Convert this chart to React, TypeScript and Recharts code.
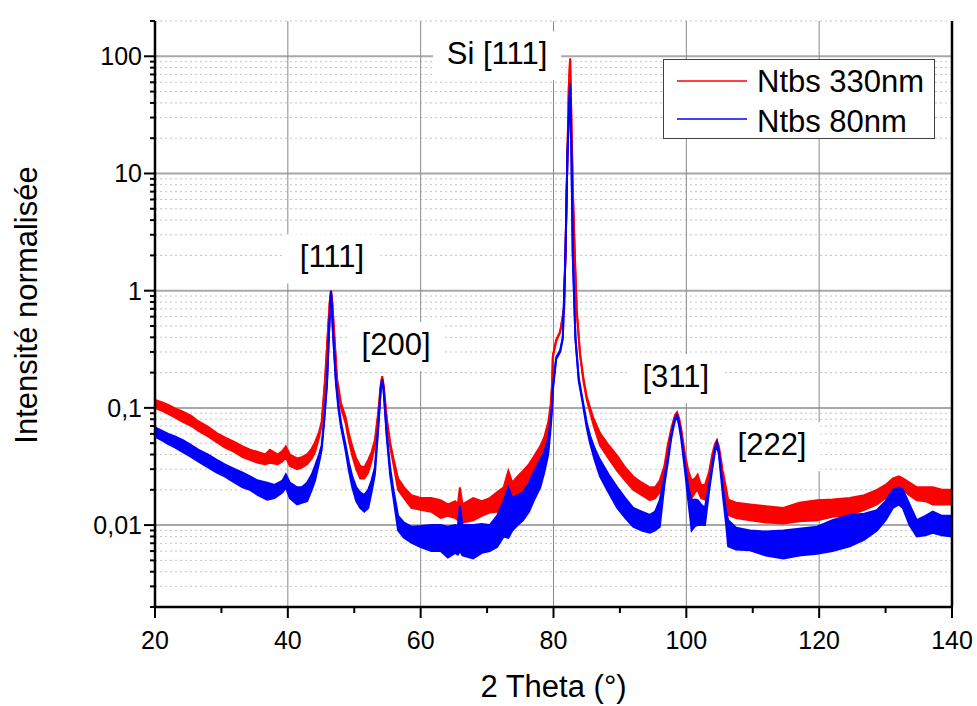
import React from "react";
import {
  ComposedChart,
  Area,
  XAxis,
  YAxis,
  CartesianGrid,
  ReferenceLine,
  ReferenceDot,
  Legend,
} from "recharts";

const FONT = '"Liberation Sans", Arial, Helvetica, sans-serif';

// Ntbs 330nm : 2 theta + upper / lower edge of the noisy trace
const redTheta = [
  20, 21, 22, 23, 24.2, 25.5, 26.5, 28, 29.3, 30.5,
  32, 33.2, 34.3, 35.5, 36.6, 37.3, 38.5, 39.2, 39.7, 40.3,
  41.4, 42.1, 42.9, 43.6, 44.1, 44.7, 45.1, 45.6, 46.0, 46.3,
  46.5, 46.7, 47.0, 47.4, 48.0, 48.7, 49.2, 49.7, 50.3, 50.9,
  51.5, 52.1, 52.6, 53.1, 53.6, 54.0, 54.2, 54.4, 54.9, 55.4,
  55.9, 56.6, 57.5, 58.6, 60, 61.6, 63, 64.1, 65.2, 65.6,
  65.9, 66.3, 67.9, 69.2, 70.4, 71.5, 72.5, 73.2, 73.8, 74.6,
  75.4, 76.3, 77, 78, 78.6, 79.2, 79.6, 79.8, 79.9, 80.4,
  81.0, 81.6, 81.8, 82.0, 82.3, 82.5, 82.7, 82.9, 83.2, 83.5,
  84.0, 84.5, 85.0, 86.0, 87.0, 88.3, 89.6, 90.8, 92.0, 93.3,
  94.5, 95.3, 96.0, 96.7, 97.2, 97.7, 98.0, 98.3, 98.6, 98.9,
  99.2, 99.8, 100.3, 100.8, 101.3, 101.7, 102.2, 102.8, 103.4, 103.9,
  104.3, 104.6, 104.9, 105.5, 106.3, 107.5, 109.6, 112, 114.6, 117,
  119.7, 122, 124.6, 126.8, 128.7, 130, 131.1, 132, 132.6, 133.6,
  134.7, 136, 137.1, 138.5, 140,
];
const redHigh = [
  0.117, 0.112, 0.106, 0.099, 0.093, 0.085, 0.077, 0.069, 0.061, 0.056,
  0.051, 0.047, 0.044, 0.042, 0.040, 0.044, 0.040, 0.043, 0.047, 0.040,
  0.037, 0.038, 0.040, 0.045, 0.051, 0.062, 0.077, 0.175, 0.42, 0.80,
  1.0, 0.80, 0.42, 0.18, 0.11, 0.083, 0.060, 0.047, 0.037, 0.032,
  0.031, 0.036, 0.042, 0.053, 0.09, 0.16, 0.186, 0.16, 0.082, 0.051,
  0.037, 0.025, 0.021, 0.018, 0.017, 0.017, 0.0163, 0.015, 0.016, 0.015,
  0.021, 0.015, 0.017, 0.016, 0.017, 0.019, 0.021, 0.029, 0.023, 0.026,
  0.029, 0.033, 0.038, 0.047, 0.056, 0.075, 0.11, 0.17, 0.28, 0.38,
  0.45, 0.72, 2.1, 7.6, 54, 96, 28, 7.6, 2.1, 0.68,
  0.29, 0.18, 0.125, 0.082, 0.061, 0.048, 0.039, 0.031, 0.026, 0.023,
  0.021, 0.021, 0.024, 0.032, 0.048, 0.065, 0.076, 0.087, 0.092, 0.082,
  0.068, 0.040, 0.029, 0.024, 0.025, 0.027, 0.022, 0.022, 0.028, 0.040,
  0.049, 0.053, 0.047, 0.029, 0.0165, 0.0155, 0.015, 0.0145, 0.014, 0.0155,
  0.0163, 0.0165, 0.017, 0.018, 0.020, 0.022, 0.025, 0.026, 0.025, 0.023,
  0.021, 0.021, 0.021, 0.020, 0.020,
];
const redLow = [
  0.100, 0.095, 0.089, 0.083, 0.076, 0.070, 0.064, 0.057, 0.051, 0.046,
  0.042, 0.038, 0.036, 0.034, 0.033, 0.034, 0.033, 0.035, 0.038, 0.032,
  0.030, 0.031, 0.033, 0.037, 0.042, 0.056, 0.072, 0.165, 0.40, 0.77,
  0.98, 0.77, 0.40, 0.17, 0.10, 0.074, 0.052, 0.039, 0.030, 0.025,
  0.025, 0.028, 0.035, 0.048, 0.085, 0.153, 0.18, 0.153, 0.077, 0.047,
  0.033, 0.020, 0.017, 0.014, 0.0135, 0.013, 0.0115, 0.012, 0.0115, 0.011,
  0.012, 0.0105, 0.011, 0.012, 0.0128, 0.013, 0.014, 0.015, 0.016, 0.018,
  0.020, 0.025, 0.029, 0.036, 0.046, 0.063, 0.10, 0.16, 0.27, 0.37,
  0.44, 0.70, 2.0, 7.4, 52, 94, 27, 7.4, 2.0, 0.66,
  0.28, 0.17, 0.118, 0.072, 0.048, 0.037, 0.029, 0.024, 0.020, 0.018,
  0.0163, 0.017, 0.019, 0.028, 0.044, 0.061, 0.072, 0.084, 0.088, 0.078,
  0.064, 0.036, 0.024, 0.017, 0.019, 0.020, 0.017, 0.0165, 0.024, 0.036,
  0.046, 0.050, 0.044, 0.025, 0.0122, 0.0115, 0.011, 0.0105, 0.0103, 0.0108,
  0.011, 0.0118, 0.0122, 0.0135, 0.015, 0.017, 0.020, 0.021, 0.020, 0.018,
  0.0163, 0.016, 0.015, 0.015, 0.015,
];

// Ntbs 80nm
const blueTheta = [
  20, 21, 22, 23, 24.2, 25.5, 26.5, 28, 29.3, 30.5,
  32, 33.2, 34.3, 35.5, 36.9, 38, 39.2, 39.7, 40.3, 41.4,
  42.1, 42.9, 43.6, 44.1, 44.7, 45.1, 45.5, 45.9, 46.2, 46.5,
  46.8, 47.25, 47.6, 48.0, 48.7, 49.2, 49.7, 50.3, 50.9, 51.5,
  52.1, 52.6, 53.1, 53.6, 54.0, 54.2, 54.4, 54.9, 55.4, 55.9,
  56.6, 57.5, 58.6, 60, 61.6, 63, 64.1, 65.2, 65.6, 65.9,
  66.3, 67.9, 69.2, 70.4, 71.5, 72.5, 73.2, 73.8, 74.6, 75.4,
  76.3, 77, 78, 78.6, 79.2, 79.6, 79.8, 79.9, 80.4, 81.0,
  81.4, 81.8, 82.1, 82.5, 82.7, 82.9, 83.3, 83.8, 84.3, 85.0,
  85.5, 86.2, 87.0, 88.3, 89.6, 90.8, 92.0, 93.3, 94.5, 95.3,
  96.0, 96.7, 97.2, 97.7, 98.0, 98.3, 98.6, 98.9, 99.2, 99.8,
  100.3, 100.8, 101.3, 101.7, 102.2, 102.8, 103.4, 103.9, 104.3, 104.6,
  104.9, 105.5, 106.0, 106.3, 107.5, 109.6, 112, 114.6, 117, 119.7,
  122, 124.6, 126.8, 128.7, 130, 131.1, 132, 132.6, 133.6, 134.7,
  136, 137.1, 138.5, 140,
];
const blueHigh = [
  0.068, 0.064, 0.060, 0.057, 0.053, 0.048, 0.044, 0.040, 0.036, 0.033,
  0.030, 0.028, 0.026, 0.024, 0.023, 0.022, 0.024, 0.027, 0.023, 0.021,
  0.021, 0.023, 0.027, 0.032, 0.040, 0.048, 0.085, 0.17, 0.45, 1.0,
  0.45, 0.17, 0.11, 0.075, 0.048, 0.034, 0.026, 0.021, 0.019, 0.018,
  0.020, 0.024, 0.031, 0.07, 0.15, 0.176, 0.15, 0.06, 0.031, 0.020,
  0.012, 0.0105, 0.0097, 0.0098, 0.010, 0.010, 0.0097, 0.010, 0.0098, 0.0147,
  0.010, 0.010, 0.0102, 0.010, 0.012, 0.016, 0.021, 0.017, 0.018, 0.019,
  0.023, 0.028, 0.036, 0.042, 0.055, 0.08, 0.11, 0.15, 0.27, 0.31,
  0.40, 2.1, 14.9, 59, 15, 2.1, 0.40, 0.18, 0.124, 0.075,
  0.058, 0.045, 0.036, 0.027, 0.021, 0.017, 0.014, 0.013, 0.0122, 0.013,
  0.0163, 0.026, 0.037, 0.058, 0.07, 0.082, 0.087, 0.075, 0.060, 0.033,
  0.021, 0.0163, 0.0165, 0.0163, 0.015, 0.014, 0.022, 0.033, 0.045, 0.051,
  0.043, 0.021, 0.013, 0.011, 0.0095, 0.009, 0.0088, 0.009, 0.0093, 0.0097,
  0.011, 0.0122, 0.0125, 0.0134, 0.016, 0.020, 0.021, 0.020, 0.015, 0.011,
  0.012, 0.013, 0.012, 0.012,
];
const blueLow = [
  0.057, 0.053, 0.049, 0.046, 0.042, 0.038, 0.035, 0.031, 0.028, 0.026,
  0.023, 0.021, 0.020, 0.018, 0.0165, 0.017, 0.019, 0.021, 0.017, 0.015,
  0.0155, 0.016, 0.020, 0.024, 0.034, 0.044, 0.08, 0.16, 0.43, 0.98,
  0.43, 0.16, 0.10, 0.069, 0.043, 0.029, 0.021, 0.016, 0.014, 0.013,
  0.014, 0.019, 0.027, 0.065, 0.145, 0.17, 0.145, 0.056, 0.027, 0.017,
  0.009, 0.0078, 0.0071, 0.0065, 0.006, 0.006, 0.0053, 0.0058, 0.0056, 0.006,
  0.0055, 0.0052, 0.0058, 0.006, 0.0065, 0.008, 0.0078, 0.009, 0.010, 0.011,
  0.013, 0.016, 0.021, 0.028, 0.040, 0.07, 0.10, 0.14, 0.26, 0.30,
  0.39, 2.0, 14.5, 57, 14.5, 2.0, 0.39, 0.17, 0.118, 0.068,
  0.050, 0.036, 0.026, 0.019, 0.014, 0.0115, 0.0097, 0.009, 0.0086, 0.009,
  0.0097, 0.022, 0.034, 0.054, 0.066, 0.078, 0.084, 0.071, 0.056, 0.029,
  0.016, 0.009, 0.0098, 0.010, 0.010, 0.010, 0.019, 0.030, 0.042, 0.048,
  0.040, 0.018, 0.010, 0.0066, 0.0062, 0.0061, 0.0055, 0.0052, 0.0055, 0.0057,
  0.006, 0.0066, 0.0075, 0.009, 0.011, 0.014, 0.015, 0.014, 0.010, 0.008,
  0.0082, 0.0086, 0.0082, 0.008,
];

const xTicks = [20, 30, 40, 50, 60, 70, 80, 90, 100, 110, 120, 130, 140];
const xMajor = [20, 40, 60, 80, 100, 120, 140];
const xGrid = [40, 60, 80, 100, 120];
const yMajor = [0.01, 0.1, 1, 10, 100];
const yMinor = [
  0.002, 0.003, 0.004, 0.005, 0.006, 0.007, 0.008, 0.009,
  0.02, 0.03, 0.04, 0.05, 0.06, 0.07, 0.08, 0.09,
  0.2, 0.3, 0.4, 0.5, 0.6, 0.7, 0.8, 0.9,
  2, 3, 4, 5, 6, 7, 8, 9,
  20, 30, 40, 50, 60, 70, 80, 90, 200,
];

const series = [
  { name: "Ntbs 330nm", color: "#ff0000", theta: redTheta, hi: redHigh, lo: redLow },
  { name: "Ntbs 80nm", color: "#0000ff", theta: blueTheta, hi: blueHigh, lo: blueLow },
];

const peakLabels = [
  { text: "Si [111]", theta: 71.5, value: 100, w: 128 },
  { text: "[111]", theta: 46.65, value: 1.85, w: 97 },
  { text: "[200]", theta: 56.3, value: 0.33, w: 97 },
  { text: "[311]", theta: 98.4, value: 0.176, w: 97 },
  { text: "[222]", theta: 112.9, value: 0.0462, w: 97 },
];

const fmt = (v: number) => (v >= 1 ? String(v) : String(v).replace(".", ","));

function XTick(props: any) {
  const { x, y, payload } = props;
  const major = xMajor.includes(payload.value);
  return (
    <g>
      <line x1={x} x2={x} y1={y} y2={y + (major ? 11 : 6)} stroke="#000" strokeWidth={2} />
      {major && (
        <text x={x} y={y + 42} textAnchor="middle" fontSize={25} fontFamily={FONT} fill="#000">
          {payload.value}
        </text>
      )}
    </g>
  );
}

function TopTick(props: any) {
  const { x, y, payload } = props;
  const major = xMajor.includes(payload.value);
  return <line x1={x} x2={x} y1={y} y2={y - (major ? 12 : 7)} stroke="#000" strokeWidth={2} />;
}

function YTick(props: any) {
  const { x, y, payload } = props;
  const major = yMajor.includes(payload.value);
  return (
    <g>
      <line x1={x - (major ? 11 : 5)} x2={x} y1={y} y2={y} stroke="#000" strokeWidth={2} />
      {major && (
        <text x={x - 13} y={y + 9} textAnchor="end" fontSize={25} fontFamily={FONT} fill="#000">
          {fmt(payload.value)}
        </text>
      )}
    </g>
  );
}

function LegendBox() {
  return (
    <svg width={272} height={80} style={{ display: "block" }}>
      <rect x={0.5} y={0.5} width={271} height={79} fill="#fff" stroke="#404040" strokeWidth={1} />
      {series.map((s, i) => (
        <g key={s.name}>
          <line x1={14} x2={84} y1={22 + i * 38} y2={22 + i * 38} stroke={s.color} strokeWidth={1.5} />
          <text x={94} y={33 + i * 40} fontSize={31} fontFamily={FONT} fill="#000">
            {s.name}
          </text>
        </g>
      ))}
    </svg>
  );
}

export default function App() {
  const yTicks = [...yMinor, ...yMajor].sort((a, b) => a - b);
  const datasets = series.map((s) =>
    s.theta.map((t, i) => ({ theta: t, band: [s.lo[i], s.hi[i]] }))
  );

  return (
    <div style={{ position: "absolute", left: 0, top: 0, width: 977, height: 706, background: "#fff" }}>
      <ComposedChart
        width={977}
        height={706}
        margin={{ top: 21, right: 25, bottom: 0, left: 0 }}
        style={{ fontFamily: FONT }}
      >
        <CartesianGrid vertical={false} horizontalValues={yMinor} stroke="#c4c4c4" strokeDasharray="2 3" />
        <CartesianGrid vertical={false} horizontalValues={yMajor} stroke="#a8a8a8" strokeWidth={2} />
        <CartesianGrid horizontal={false} verticalValues={xGrid} stroke="#8a8a8a" strokeWidth={1} />

        <XAxis
          dataKey="theta"
          type="number"
          domain={[20, 140]}
          ticks={xTicks}
          interval={0}
          allowDataOverflow
          height={99}
          tickSize={0}
          tickMargin={0}
          tickLine={false}
          axisLine={{ stroke: "#000", strokeWidth: 2.5 }}
          tick={<XTick />}
          label={{
            content: (p: any) => {
              const vb = p.viewBox || { x: 155, y: 607, width: 797 };
              return (
                <text x={vb.x + vb.width / 2} y={vb.y + 90} textAnchor="middle" fontSize={31} fontFamily={FONT} fill="#000">
                  2 Theta (°)
                </text>
              );
            },
          }}
        />
        <XAxis
          xAxisId="top"
          orientation="top"
          dataKey="theta"
          type="number"
          domain={[20, 140]}
          ticks={xTicks}
          interval={0}
          allowDataOverflow
          height={0}
          tickSize={0}
          tickMargin={0}
          tickLine={false}
          axisLine={{ stroke: "#000", strokeWidth: 2.5 }}
          tick={<TopTick />}
        />
        <YAxis
          type="number"
          scale="log"
          domain={[0.002, 200]}
          ticks={yTicks}
          interval={0}
          allowDataOverflow
          width={155}
          tickSize={0}
          tickMargin={0}
          tickLine={false}
          axisLine={{ stroke: "#000", strokeWidth: 2.5 }}
          tick={<YTick />}
          label={{
            content: () => (
              <text
                x={37}
                y={305}
                transform="rotate(-90 37 305)"
                textAnchor="middle"
                fontSize={31}
                fontFamily={FONT}
                fill="#000"
              >
                Intensité normalisée
              </text>
            ),
          }}
        />

        <ReferenceLine x={140} stroke="#000" strokeWidth={2.5} ifOverflow="visible" />

        {series.map((s, i) => (
          <Area
            key={s.name}
            name={s.name}
            data={datasets[i]}
            dataKey="band"
            type="linear"
            stroke={s.color}
            strokeWidth={2}
            fill={s.color}
            fillOpacity={1}
            dot={false}
            activeDot={false}
            isAnimationActive={false}
          />
        ))}

        {peakLabels.map((l) => (
          <ReferenceDot
            key={l.text}
            x={l.theta}
            y={l.value}
            r={0}
            ifOverflow="visible"
            shape={(p: any) => (
              <g>
                <rect x={p.cx - l.w / 2} y={p.cy - 25} width={l.w} height={49} fill="#fff" />
                <text x={p.cx} y={p.cy + 8} textAnchor="middle" fontSize={31} fontFamily={FONT} fill="#000">
                  {l.text}
                </text>
              </g>
            )}
          />
        ))}

        <Legend
          layout="horizontal"
          verticalAlign="middle"
          align="center"
          wrapperStyle={{ left: 663, top: 59, width: 272, height: 80 }}
          content={() => <LegendBox />}
        />
      </ComposedChart>
    </div>
  );
}
